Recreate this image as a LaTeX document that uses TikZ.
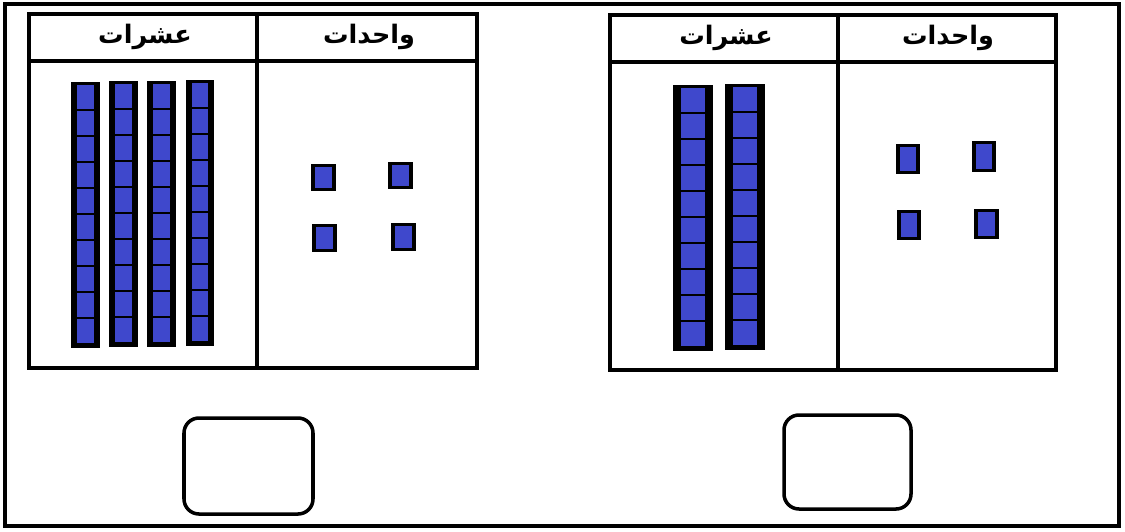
\documentclass[tikz,border=0pt]{standalone}
\usepackage{fontspec}
\newfontfamily\arabicfont[Script=Arabic]{DejaVu Sans}
\TeXXeTstate=1
\usetikzlibrary{positioning}
\definecolor{blockblue}{HTML}{3F48CC}

% one tens rod: x1, y1, x2, y2, side inset
\newcommand{\tensrod}[5]{%
  \fill[black] (#1,#2) rectangle (#3,#4);
  \foreach \i in {0,...,9}
    \fill[blockblue] ({#1+#5},{#2+3+\i*(#4-#2-6)/10})
      rectangle ({#3-#5},{#2+3+(\i+1)*(#4-#2-6)/10-2});
}
% one unit cube: x1, y1, x2, y2
\newcommand{\unitcube}[4]{%
  \fill[black] (#1,#2) rectangle (#3,#4);
  \fill[blockblue] ({#1+4},{#2+3}) rectangle ({#3-4},{#4-3});
}

\begin{document}
\begin{tikzpicture}[x=0.02cm, y=-0.02cm,
  frame/.style={draw=black, line width=2pt},
  grid/.style={draw=black, line width=2pt},
  hdr/.style={font=\fontsize{14.5}{16}\selectfont\bfseries\arabicfont, inner sep=0pt},
  answer/.style={draw=black, line width=2pt, rounded corners=0.3cm}
]
\useasboundingbox (0,0) rectangle (1125,531);
\draw[frame] (5,4) rectangle (1119,526);

% left table
\draw[grid] (29,14) rectangle (477,368);
\draw[grid] (29,61) -- (477,61);
\draw[grid] (257,14) -- (257,368);
\node[hdr] (lTens)  at (145,37) {\beginR عشرات\endR};
\node[hdr] (lUnits) at (369,37) {\beginR واحدات\endR};

\tensrod{71}{82}{100}{348}{6}
\tensrod{109}{81}{138}{347}{6}
\tensrod{147}{81}{176}{347}{6}
\tensrod{186}{80}{214}{346}{6}

\unitcube{311}{164}{336}{191}
\unitcube{388}{162}{413}{189}
\unitcube{312}{224}{337}{252}
\unitcube{391}{223}{416}{251}

% right table
\draw[grid] (610,15) rectangle (1056,370);
\draw[grid] (610,62) -- (1056,62);
\draw[grid] (838,15) -- (838,370);
\node[hdr] (rTens)  at (726,38) {\beginR عشرات\endR};
\node[hdr] (rUnits) at (948,38) {\beginR واحدات\endR};

\tensrod{673}{85}{713}{351}{8}
\tensrod{725}{84}{765}{350}{8}

\unitcube{896}{144}{920}{174}
\unitcube{972}{141}{996}{172}
\unitcube{897}{210}{921}{240}
\unitcube{974}{209}{999}{239}

% answer boxes
\draw[answer] (184,418) rectangle (313,514);
\draw[answer] (784,415) rectangle (911,509);
\end{tikzpicture}
\end{document}
